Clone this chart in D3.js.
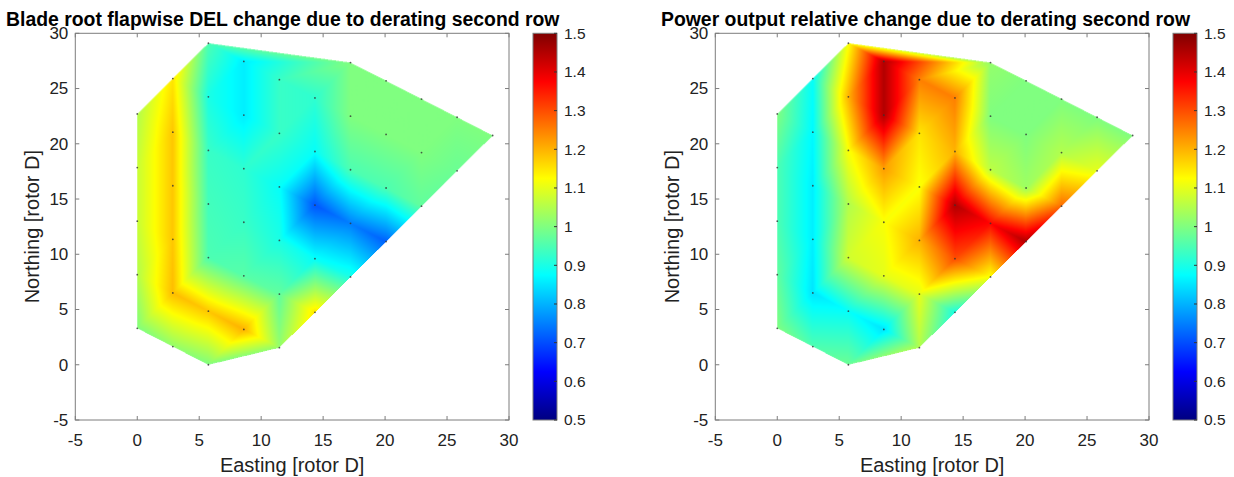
<!DOCTYPE html>
<html><head><meta charset="utf-8">
<script src="https://cdn.jsdelivr.net/npm/d3@7"></script>
<style>body{margin:0;background:#fff;} text{font-family:"Liberation Sans",Arial,sans-serif;fill:#222;}</style>
</head><body>
<svg id="chart" width="1234" height="477"></svg>
<script>
// Turbine positions [rotor D]
const easting = [
  0,0,0,0,0,
  2.87,2.87,2.87,2.87,2.87,2.87,
  5.74,5.74,5.74,5.74,5.74,5.74,5.74,
  8.60,8.60,8.60,8.60,8.60,8.60,
  11.47,11.47,11.47,11.47,11.47,11.47,
  14.34,14.34,14.34,14.34,14.34,
  17.21,17.21,17.21,17.21,17.21,
  20.08,20.08,20.08,20.08,
  22.94,22.94,22.94,
  25.81,25.81,
  28.68];
const northing = [
  22.70,17.85,13.00,8.15,3.30,
  25.90,21.05,16.20,11.35,6.50,1.65,
  29.10,24.25,19.40,14.55,9.70,4.85,0.00,
  27.45,22.60,17.75,12.90,8.05,3.20,
  25.80,20.95,16.10,11.25,6.40,1.55,
  24.15,19.30,14.45,9.60,4.75,
  27.35,22.50,17.65,12.80,7.95,
  25.70,20.85,16.00,11.15,
  24.05,19.20,14.35,
  22.40,17.55,
  20.75];
// Blade root flapwise DEL change
const delChange = [
  1.05,1.07,1.07,1.05,1.00,
  1.15,1.18,1.18,1.18,1.19,1.02,
  0.95,0.90,0.93,0.94,0.95,1.18,1.00,
  0.86,0.86,0.92,0.93,0.96,1.20,
  0.93,0.93,0.88,0.90,0.97,1.02,
  0.92,0.88,0.71,0.88,1.15,
  1.00,1.00,0.95,0.75,0.90,
  1.00,1.00,0.95,0.72,
  1.00,1.00,0.97,
  1.00,0.98,
  1.00];
// Power output relative change
const powerChange = [
  1.00,0.95,0.95,0.97,1.00,
  0.88,0.87,0.86,0.86,0.85,0.95,
  1.12,1.20,1.12,1.05,1.08,0.88,0.98,
  1.45,1.45,1.22,1.12,1.10,0.85,
  1.25,1.15,1.12,1.20,1.10,1.05,
  1.25,1.20,1.45,1.30,0.90,
  1.02,1.00,1.06,1.37,1.12,
  1.00,1.00,1.03,1.45,
  1.00,1.05,1.27,
  1.00,1.10,
  1.00];
const axisTicks = [-5,0,5,10,15,20,25,30];
const cbarTicks = [0.5,0.6,0.7,0.8,0.9,1,1.1,1.2,1.3,1.4,1.5];
const titles = ["Blade root flapwise DEL change due to derating second row",
                "Power output relative change due to derating second row"];
const xLabel = "Easting [rotor D]";
const yLabel = "Northing [rotor D]";

const svg = d3.select("#chart");
const axisColor = "#7d7d7d";
const jet = t => {
  const c = v => Math.max(0, Math.min(1, v));
  return [c(1.5 - Math.abs(4*t - 3)), c(1.5 - Math.abs(4*t - 2)), c(1.5 - Math.abs(4*t - 1))];
};
const cnorm = d3.scaleLinear().domain([0.5, 1.5]).range([0, 1]).clamp(true);
const delaunay = d3.Delaunay.from(easting.map((e, i) => [e, northing[i]]));
const tris = delaunay.triangles;

function drawPanel(off, values, title, titleX) {
  const x = d3.scaleLinear().domain([-5, 30]).range([75.3 + off, 509 + off]);
  const y = d3.scaleLinear().domain([-5, 30]).range([420, 33.3]);
  const g = svg.append("g");
  // raster interpolated surface
  const S = 2;
  const x0 = x.range()[0], yTop = y.range()[1];
  const W = Math.round((x.range()[1] - x0) * S), H = Math.round((y.range()[0] - yTop) * S);
  const canvas = document.createElement("canvas");
  canvas.width = W; canvas.height = H;
  const ctx = canvas.getContext("2d");
  const img = ctx.createImageData(W, H);
  const px = i => (x(easting[i]) - x0) * S, py = i => (y(northing[i]) - yTop) * S;
  for (let t = 0; t < tris.length; t += 3) {
    const a = tris[t], b = tris[t+1], c = tris[t+2];
    const ax = px(a), ay = py(a), bx = px(b), by = py(b), cx = px(c), cy = py(c);
    const den = (by - cy)*(ax - cx) + (cx - bx)*(ay - cy);
    if (Math.abs(den) < 1e-6) continue;
    const minX = Math.max(0, Math.floor(Math.min(ax,bx,cx))), maxX = Math.min(W-1, Math.ceil(Math.max(ax,bx,cx)));
    const minY = Math.max(0, Math.floor(Math.min(ay,by,cy))), maxY = Math.min(H-1, Math.ceil(Math.max(ay,by,cy)));
    for (let j = minY; j <= maxY; j++) for (let i = minX; i <= maxX; i++) {
      const qx = i + 0.5, qy = j + 0.5;
      const l1 = ((by - cy)*(qx - cx) + (cx - bx)*(qy - cy)) / den;
      const l2 = ((cy - ay)*(qx - cx) + (ax - cx)*(qy - cy)) / den;
      const l3 = 1 - l1 - l2;
      const e = -1e-4;
      if (l1 < e || l2 < e || l3 < e) continue;
      const v = l1*values[a] + l2*values[b] + l3*values[c];
      const col = jet(cnorm(v));
      const k = (j*W + i)*4;
      img.data[k] = Math.round(col[0]*255); img.data[k+1] = Math.round(col[1]*255);
      img.data[k+2] = Math.round(col[2]*255); img.data[k+3] = 255;
    }
  }
  ctx.putImageData(img, 0, 0);
  g.append("image").attr("href", canvas.toDataURL()).attr("x", x0).attr("y", yTop)
    .attr("width", W / S).attr("height", H / S).attr("preserveAspectRatio", "none");
  // turbine dots
  g.selectAll("circle.t").data(easting).join("circle").attr("class", "t")
    .attr("cx", (d) => x(d)).attr("cy", (d, i) => y(northing[i])).attr("r", 0.9)
    .attr("fill", "#333").attr("opacity", 0.8);
  // frame
  const [X0, X1] = x.range(), [Y0, Y1] = y.range();
  g.append("rect").attr("x", X0).attr("y", Y1).attr("width", X1 - X0).attr("height", Y0 - Y1)
    .attr("fill", "none").attr("stroke", axisColor).attr("stroke-width", 1);
  const tl = 4;
  axisTicks.forEach(v => {
    g.append("line").attr("x1", x(v)).attr("x2", x(v)).attr("y1", Y0).attr("y2", Y0 - tl).attr("stroke", axisColor);
    g.append("line").attr("x1", x(v)).attr("x2", x(v)).attr("y1", Y1).attr("y2", Y1 + tl).attr("stroke", axisColor);
    g.append("line").attr("y1", y(v)).attr("y2", y(v)).attr("x1", X0).attr("x2", X0 + tl).attr("stroke", axisColor);
    g.append("line").attr("y1", y(v)).attr("y2", y(v)).attr("x1", X1).attr("x2", X1 - tl).attr("stroke", axisColor);
    g.append("text").attr("x", x(v)).attr("y", 446).attr("text-anchor", "middle").attr("font-size", 17).text(v);
    g.append("text").attr("x", X0 - 7).attr("y", y(v)).attr("dy", "0.35em").attr("text-anchor", "end").attr("font-size", 17).text(v);
  });
  g.append("text").attr("x", (X0 + X1) / 2).attr("y", 472).attr("text-anchor", "middle").attr("font-size", 20).text(xLabel);
  g.append("text").attr("transform", `translate(${39 + off},${(Y0 + Y1) / 2}) rotate(-90)`)
    .attr("text-anchor", "middle").attr("font-size", 20).text(yLabel);
  g.append("text").attr("x", titleX).attr("y", 26).attr("text-anchor", "start")
    .attr("font-size", 19.4).attr("font-weight", "bold").style("fill", "#000").text(title);
  // colorbar
  const cbX = 533 + off, cbW = 24;
  const cy = d3.scaleLinear().domain([0.5, 1.5]).range([420, 33.3]);
  const gradId = "jetgrad" + off;
  const grad = svg.append("defs").append("linearGradient").attr("id", gradId)
    .attr("x1", 0).attr("y1", 1).attr("x2", 0).attr("y2", 0);
  d3.range(0, 1.0001, 0.0625).forEach(t => {
    const c = jet(t);
    grad.append("stop").attr("offset", t).attr("stop-color", d3.rgb(c[0]*255, c[1]*255, c[2]*255));
  });
  g.append("rect").attr("x", cbX).attr("y", 33.3).attr("width", cbW).attr("height", 420 - 33.3)
    .attr("fill", `url(#${gradId})`).attr("stroke", axisColor).attr("stroke-width", 1);
  cbarTicks.forEach(v => {
    g.append("line").attr("x1", cbX + cbW - 3).attr("x2", cbX + cbW).attr("y1", cy(v)).attr("y2", cy(v)).attr("stroke", "#333");
    g.append("text").attr("x", cbX + cbW + 7).attr("y", cy(v)).attr("dy", "0.35em").attr("font-size", 15.5).text(v);
  });
}
drawPanel(0, delChange, titles[0], 6);
drawPanel(640, powerChange, titles[1], 661);
</script>
</body></html>
